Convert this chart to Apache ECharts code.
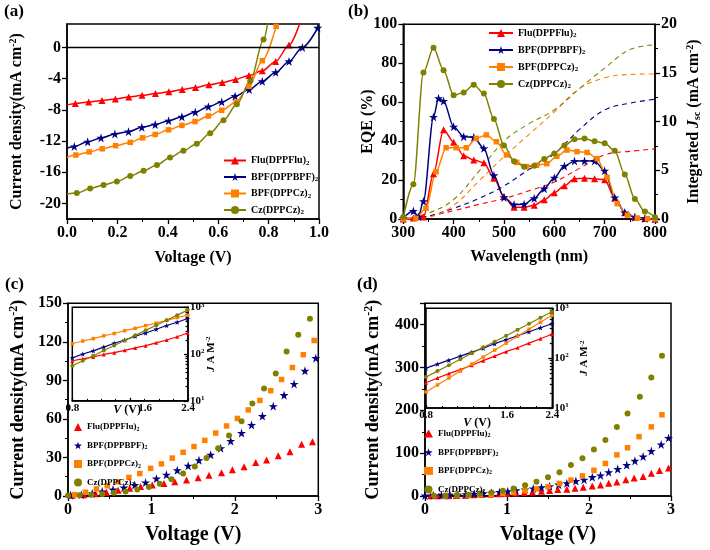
<!DOCTYPE html>
<html><head><meta charset="utf-8">
<script src="https://cdn.jsdelivr.net/npm/echarts@6/dist/echarts.min.js"></script>
<style>
html,body{margin:0;padding:0;background:#fff;}
#wrap{position:relative;width:710px;height:550px;overflow:hidden;}
.p{position:absolute;}
</style></head><body>
<div id="wrap">
<div class="p" id="pa" style="left:0;top:0;width:340px;height:275px"></div>
<div class="p" id="pb" style="left:340px;top:0;width:370px;height:275px"></div>
<div class="p" id="pc" style="left:0;top:275px;width:355px;height:275px"></div>
<div class="p" id="pd" style="left:355px;top:275px;width:355px;height:275px"></div>
</div>
<script>
// ---------- names ----------
const NAMES = ['Flu(DPPFlu)2', 'BPF(DPPBPF)2', 'BPF(DPPCz)2', 'Cz(DPPCz)2'];

// ---------- panel (a): J-V ----------
const aV_Flu = [0,0.033,0.086,0.139,0.192,0.245,0.298,0.351,0.404,0.457,0.51,0.563,0.616,0.669,0.722,0.775,0.828,0.881,0.925];
const aJ_Flu = [-7.4,-7.2,-7.0,-6.8,-6.6,-6.35,-6.15,-5.9,-5.7,-5.4,-5.15,-4.8,-4.5,-4.1,-3.6,-3.0,-1.8,0.3,3.2];
const aV_BPF = [0,0.029,0.082,0.135,0.19,0.244,0.297,0.35,0.403,0.456,0.509,0.561,0.614,0.667,0.723,0.775,0.828,0.881,0.934,0.995];
const aJ_BPF = [-12.9,-12.7,-12.1,-11.6,-11.1,-10.8,-10.25,-9.9,-9.4,-8.9,-8.3,-7.6,-7.0,-6.25,-5.4,-4.35,-3.2,-1.8,0,2.5];
const aV_BPFCz = [0,0.035,0.088,0.14,0.193,0.251,0.3,0.35,0.403,0.456,0.508,0.561,0.614,0.671,0.722,0.775,0.83];
const aJ_BPFCz = [-14.1,-13.8,-13.4,-13.0,-12.6,-12.18,-11.6,-11.16,-10.57,-10.0,-9.5,-8.8,-8.06,-7.0,-5.0,-1.7,2.7];
const aV_Cz = [0,0.039,0.092,0.145,0.198,0.251,0.304,0.357,0.409,0.462,0.515,0.568,0.621,0.674,0.727,0.78,0.797];
const aJ_Cz = [-18.8,-18.68,-18.1,-17.65,-17.2,-16.5,-15.8,-15.07,-14.1,-13.25,-12.35,-11.0,-9.34,-7.3,-4.33,1.0,3.2];
const aYTicks = [-20,-16,-12,-8,-4,0];

// ---------- panel (b): EQE and integrated Jsc ----------
const bWl_Flu = [300,320,340,360,380,400,420,440,460,480,500,520,540,560,580,600,620,640,660,680,700,720,740,760,780,800];
const bEqe_Flu = [0,0.5,1,23.3,45.9,39.4,32.5,30.3,28.9,20.9,11.5,6,6,7,9.9,13.5,17.1,20.7,20.9,20.7,20.2,10.8,3.4,0.9,0.2,0];
const bWl_BPF = [300,320,330,340,360,370,380,400,420,440,460,480,500,520,540,560,580,600,620,640,660,680,700,720,740,760,780,800];
const bEqe_BPF = [0.5,4.1,1.2,9.1,52.4,62,60.6,47.4,42.3,42,36.3,22.4,11.1,7.4,7.6,10.6,15.6,21.2,27.2,29.8,29.8,29.8,24.8,11,3.3,1,0.3,0];
const bWl_BPFCz = [300,325,345,365,385,405,425,445,465,485,505,525,545,565,585,605,625,645,665,685,705,725,745,765,785,800];
const bEqe_BPFCz = [0,0.3,5.5,24.3,36.6,36.6,36.6,41.4,43.2,39.7,32.9,29.1,26.9,27.6,28.4,32.2,35.4,34.6,34.2,31,21.4,7.9,2,0.5,0.2,0];
const bWl_Cz = [300,320,340,360,380,400,420,440,460,480,500,520,540,560,580,600,620,640,660,680,700,720,740,760,780,800];
const bEqe_Cz = [1,17.8,75.2,88,76.4,63.5,65,69,64.4,51.4,37.7,29.6,26.9,27.4,30.8,33.7,37.7,41,41.3,39.9,38.9,35.1,22.8,10.3,3.8,0.9];
const bWlJ = [300,350,400,450,500,550,600,650,700,750,800];
const bJsc_Flu = [0,0.3,0.85,1.5,2.1,2.9,3.8,5.2,6.6,6.95,7.2];
const bJsc_BPF = [0,0.3,1.1,2.1,3.4,5.1,6.7,9.2,11.2,11.9,12.3];
const bJsc_BPFCz = [0,0.2,1.4,3.9,6.4,8.7,11,13.4,14.5,14.85,14.9];
const bJsc_Cz = [0,0.6,2.0,4.9,8.0,9.8,11.2,13.4,15.5,17.4,17.9];

// ---------- panel (c): J-V (dark/forward) ----------
const cV_Flu = [0.05,0.19,0.33,0.46,0.6,0.74,0.87,1.01,1.15,1.28,1.42,1.56,1.69,1.84,1.97,2.11,2.25,2.38,2.52,2.66,2.8,2.93];
const cJ_Flu = [0.5,1,1.8,3,4.5,6,7.3,8.5,9.8,11,12.5,14.2,16.1,18.1,20.4,22.7,26,28,31.4,34.4,40.3,42.3];
const cV_BPF = [0.03,0.16,0.29,0.41,0.54,0.67,0.8,0.93,1.06,1.18,1.31,1.44,1.57,1.71,1.83,1.95,2.08,2.2,2.33,2.46,2.59,2.71,2.84,2.97];
const cJ_BPF = [0.5,1,2,3.5,5,6.5,8.5,10.5,13.5,16.5,20,23.5,27.8,32.1,37.2,42.8,49,55.3,62.2,69.9,78.5,87.2,97.4,107.3];
const cV_BPFCz = [0.08,0.21,0.34,0.47,0.6,0.73,0.86,0.99,1.12,1.25,1.38,1.51,1.64,1.77,1.9,2.03,2.16,2.3,2.43,2.56,2.69,2.82,2.95];
const cJ_BPFCz = [1,3,5.5,8,11,14.5,17.5,21.5,25,29.5,34,38.5,43.3,49,54.5,60.4,67,74.4,82,90.7,100,110,121];
const cV_Cz = [0.0,0.14,0.28,0.41,0.55,0.69,0.83,0.97,1.1,1.24,1.38,1.52,1.66,1.8,1.93,2.08,2.21,2.35,2.49,2.62,2.76,2.9];
const cJ_Cz = [0.3,0.5,1,1.5,2.5,3.5,5,7,9.5,13,17.5,22.9,29.5,37.2,47.1,58.1,72.1,83.6,95.3,112.5,125.5,138];

// ---------- panel (d) ----------
const dV_Flu = [0.07,0.17,0.28,0.38,0.49,0.59,0.69,0.8,0.9,1.0,1.11,1.21,1.31,1.42,1.52,1.62,1.73,1.83,1.93,2.04,2.14,2.24,2.34,2.45,2.55,2.66,2.76,2.86,2.97];
const dJ_Flu = [0.3,0.5,0.7,1,2,2.7,3.3,4,5,6,7,8,9.5,11,12.8,15,16,18.3,20.6,23.5,25.8,29.7,32.7,38,41.8,45.7,53.3,59.4,65.4];
const dV_BPF = [0.0,0.1,0.2,0.3,0.4,0.5,0.6,0.71,0.81,0.91,1.01,1.11,1.22,1.32,1.42,1.52,1.63,1.73,1.84,1.94,2.04,2.14,2.24,2.35,2.46,2.56,2.66,2.76,2.88,2.97];
const dJ_BPF = [1,1.5,2,2.5,3,4,5,6,7.5,9,11,13,15,17.5,20,22.8,26.5,29.7,35,38,44,48,55.5,63,72.3,82,92,105,120.3,135.5];
const dV_BPFCz = [0.25,0.39,0.53,0.67,0.81,0.95,1.08,1.22,1.36,1.5,1.64,1.78,1.92,2.06,2.2,2.34,2.47,2.61,2.76,2.89];
const dJ_BPFCz = [0.5,1,1.5,2.5,3.5,5.5,8,12,16.5,22,29,37.2,47,60,76,96,112.7,138.5,161.4,189.7];
const dV_Cz = [0.11,0.25,0.39,0.53,0.67,0.81,0.95,1.08,1.22,1.36,1.5,1.64,1.78,1.92,2.06,2.2,2.34,2.47,2.62,2.76,2.89];
const dJ_Cz = [0.5,1,2,3,5,8,12,17.5,25,33,44,55.5,72.2,88.3,108.8,131,161.4,192.7,232,276.5,327.5];

// ---------- insets (log J vs V) ----------
const insV = [0.8,0.945,1.09,1.235,1.38,1.525,1.67,1.815,1.96,2.105,2.25,2.395];
const ciFlu = [72,79,87,98,107,120,135,151,174,200,234,282];
const ciBPF = [83,100,117,141,170,200,240,282,339,407,479,575];
const ciBPFCz = [166,190,214,245,275,316,355,407,457,525,603,676];
const ciCz = [56,72,92,119,152,195,251,321,412,530,679,871];
const diFlu = [32,40,49,59,72,89,110,135,162,200,245,302];
const diBPF = [63,76,91,110,132,158,195,234,282,339,407,490];
const diBPFCz = [21,29,40,55,76,105,145,200,275,380,525,724];
const diCz = [42,55,72,95,126,166,214,282,372,490,646,851];
const logMinor = [20,30,40,50,60,70,80,90,200,300,400,500,600,700,800,900];

// ---------- styling ----------
const FF = '"Times New Roman","Liberation Serif",serif';
const COL = ['#FF0000', '#000080', '#FF8000', '#808000'];
const STAR = 'path://M50 0L61.2 34.5L97.6 34.5L68.2 55.9L79.4 90.5L50 69.1L20.6 90.5L31.8 55.9L2.4 34.5L38.8 34.5Z';
const SYM = ['triangle', STAR, 'rect', 'circle'];

function pairs(xs, ys) { return xs.map((x, i) => [x, ys[i]]); }

function richFor(fs) {
  const base = {fontFamily: FF, fontWeight: 'bold', color: '#000'};
  return {
    sup: Object.assign({}, base, {fontSize: Math.round(fs * 0.65), verticalAlign: 'top', padding: [0, 0, Math.round(fs * 0.45), 0]}),
    sub: Object.assign({}, base, {fontSize: Math.round(fs * 0.65), verticalAlign: 'bottom', padding: [Math.round(fs * 0.4), 0, 0, 0]}),
    i: Object.assign({}, base, {fontSize: fs, fontStyle: 'italic'}),
    pad: Object.assign({}, base, {fontSize: fs})
  };
}

function axis(o) {
  const fs = o.fs || 16, nfs = o.nfs || 16;
  const a = {
    type: o.type || 'value',
    nameLocation: 'middle',
    nameMoveOverlap: false,
    nameTextStyle: {color: '#000', fontFamily: FF, fontWeight: 'bold', fontSize: nfs, rich: richFor(nfs)},
    axisLine: {show: o.line !== false, onZero: false, lineStyle: {color: '#000', width: 1.5}},
    axisTick: {show: true, inside: !!o.inside, length: o.tl || 5, lineStyle: {color: '#000', width: 1.3}},
    minorTick: {show: !!o.minor, splitNumber: o.msplit || 2, length: o.mtl || 3, lineStyle: {color: '#000', width: 1}},
    splitLine: {show: false},
    axisLabel: {show: o.label !== false, color: '#000', fontFamily: FF, fontWeight: 'bold', fontSize: fs, margin: (o.margin !== undefined ? o.margin : 6)}
  };
  ['gridIndex', 'min', 'max', 'interval', 'name', 'nameGap', 'position', 'nameRotate', 'logBase', 'offset'].forEach(k => { if (o[k] !== undefined) a[k] = o[k]; });
  if (o.fmt) a.axisLabel.formatter = o.fmt;
  if (o.rich) a.axisLabel.rich = o.rich;
  if (o.labelCustom) a.axisLabel.customValues = o.labelCustom;
  if (o.tickCustom) a.axisTick.customValues = o.tickCustom;
  if (o.showMaxLabel === false) a.axisLabel.showMaxLabel = false;
  return a;
}

function legendCfg(o) {
  return {
    orient: 'vertical', left: o.left, top: o.top, itemWidth: o.iw, itemHeight: o.ih, itemGap: o.gap,
    padding: 0, selectedMode: false, data: NAMES,
    textStyle: {fontFamily: FF, fontWeight: 'bold', fontSize: o.fs, color: '#000',
      rich: {s: {fontFamily: FF, fontWeight: 'bold', fontSize: Math.round(o.fs * 0.7), color: '#000', verticalAlign: 'bottom', padding: [Math.round(o.fs * 0.45), 0, 0, 0]}}},
    formatter: n => n.slice(0, -1) + '{s|2}'
  };
}

function label(t, left, top) {
  return {text: t, left: left, top: top, padding: 0, textStyle: {fontFamily: FF, fontWeight: 'bold', fontSize: 17, color: '#000'}};
}

function gridBox(l, t, w, h, bg) {
  return {left: l, top: t, width: w, height: h, show: true, borderColor: '#000', borderWidth: 1.5, backgroundColor: bg || 'transparent', containLabel: false};
}

const logFmt = v => '{b|10}{s|' + Math.round(Math.log10(v)) + '}';
function logRich(fs) {
  return {
    b: {fontFamily: FF, fontWeight: 'bold', fontSize: fs, color: '#000'},
    s: {fontFamily: FF, fontWeight: 'bold', fontSize: Math.round(fs * 0.65), color: '#000', verticalAlign: 'top', padding: [0, 0, Math.round(fs * 0.45), 0]}
  };
}

// ---------- (a) ----------
(function () {
  const V = [aV_Flu, aV_BPF, aV_BPFCz, aV_Cz];
  const J = [aJ_Flu, aJ_BPF, aJ_BPFCz, aJ_Cz];
  const hideLast = [true, false, false, true];
  const size = [7, 9, 5.5, 6];
  const series = NAMES.map((n, i) => ({
    name: n, type: 'line', smooth: 0.3, smoothMonotone: 'x',
    data: V[i].map((v, k) => {
      const it = {value: [v, J[i][k]]};
      if (k === 0 || (hideLast[i] && k === V[i].length - 1)) it.symbol = 'none';
      return it;
    }),
    symbol: SYM[i], symbolSize: size[i], showAllSymbol: true, clip: true,
    lineStyle: {width: 1.5, color: COL[i]}, itemStyle: {color: COL[i]}, z: 3
  }));
  series[0].markLine = {silent: true, symbol: ['none', 'none'], label: {show: false}, animation: false,
    lineStyle: {color: '#000', type: 'solid', width: 1.3}, data: [{yAxis: 0}]};
  const c = echarts.init(document.getElementById('pa'));
  c.setOption({
    animation: false,
    title: label('(a)', 4, 3),
    grid: gridBox(66.7, 24, 252.3, 195),
    legend: legendCfg({left: 223, top: 155.5, iw: 22, ih: 10, gap: 5.5, fs: 10}),
    xAxis: axis({min: 0, max: 1, interval: 0.2, name: 'Voltage (V)', nameGap: 31, fmt: v => v.toFixed(1), minor: true}),
    yAxis: axis({min: -22, max: 3, name: 'Current density(mA cm{sup|-2})', nameGap: 42, labelCustom: aYTicks, tickCustom: aYTicks}),
    series: series
  });
})();

// ---------- (b) ----------
(function () {
  const W = [bWl_Flu, bWl_BPF, bWl_BPFCz, bWl_Cz];
  const E = [bEqe_Flu, bEqe_BPF, bEqe_BPFCz, bEqe_Cz];
  const Jsc = [bJsc_Flu, bJsc_BPF, bJsc_BPFCz, bJsc_Cz];
  const size = [7, 9, 5.5, 6];
  const series = [];
  NAMES.forEach((n, i) => {
    series.push({name: n, type: 'line', smooth: 0.3, smoothMonotone: 'x', data: pairs(W[i], E[i]),
      symbol: SYM[i], symbolSize: size[i], showAllSymbol: true, yAxisIndex: 0,
      lineStyle: {width: 1.5, color: COL[i]}, itemStyle: {color: COL[i]}, z: 3});
  });
  NAMES.forEach((n, i) => {
    series.push({name: 'Jsc ' + n, type: 'line', smooth: 0.4, data: pairs(bWlJ, Jsc[i]), symbol: 'none', yAxisIndex: 1,
      lineStyle: {width: 1.1, color: COL[i], type: [5, 4]}, itemStyle: {color: COL[i]}, z: 2});
  });
  const c = echarts.init(document.getElementById('pb'));
  c.setOption({
    animation: false,
    title: label('(b)', 8, 3),
    grid: gridBox(63.3, 24.3, 256.7, 194.7),
    legend: legendCfg({left: 148, top: 28, iw: 24, ih: 10, gap: 6, fs: 10}),
    xAxis: axis({min: 300, max: 800, interval: 100, name: 'Wavelength (nm)', nameGap: 30, minor: true}),
    yAxis: [
      axis({min: 0, max: 100, interval: 20, name: 'EQE (%)', nameGap: 27, minor: true}),
      axis({min: 0, max: 20, interval: 5, position: 'right', name: 'Integrated {i|J}{sub|sc} (mA cm{sup|-2})', nameGap: 30, nameRotate: 90, minor: true})
    ],
    series: series
  });
})();

// ---------- (c) & (d) builder ----------
function buildJV(id, lab, main, inset, cfg) {
  const size = [7, 9, 5.5, 6];
  const series = [];
  NAMES.forEach((n, i) => {
    series.push({name: n, type: 'scatter', data: pairs(main.V[i], main.J[i]), symbol: SYM[i], symbolSize: size[i],
      itemStyle: {color: COL[i], opacity: 1}, xAxisIndex: 0, yAxisIndex: 0, z: 3});
  });
  const isize = [4, 5.5, 3.5, 4];
  NAMES.forEach((n, i) => {
    series.push({name: n, type: 'line', data: pairs(insV, inset[i]), symbol: SYM[i], symbolSize: isize[i], showAllSymbol: true,
      lineStyle: {width: 1.2, color: COL[i]}, itemStyle: {color: COL[i]}, xAxisIndex: 1, yAxisIndex: 1, z: 5});
  });
  const g = cfg.inset;
  const midPad = cfg.midPad;
  const c = echarts.init(document.getElementById(id));
  c.setOption({
    animation: false,
    title: label(lab, cfg.labLeft, 1),
    grid: [gridBox(63.3, 28.3, cfg.w, 196), gridBox(g[0], g[1], g[2], g[3], '#fff')],
    legend: legendCfg(cfg.legend),
    xAxis: [
      axis({gridIndex: 0, min: 0, max: 3, interval: 1, name: 'Voltage (V)', nameGap: 29, nfs: 20, minor: true}),
      axis({gridIndex: 1, min: 0.8, max: 2.4, interval: 0.8, inside: true, tl: 3, minor: true, msplit: 4, mtl: 2, fs: 11, margin: 2,
        name: '{i|V} (V){pad|' + cfg.namePad + '}', nameGap: cfg.vGap, nfs: 12,
        fmt: v => (Math.abs(v - 1.6) < 0.01 ? '{m|1.6}' : v.toFixed(1)),
        rich: {m: {fontFamily: FF, fontWeight: 'bold', fontSize: 11, color: '#000', padding: [0, 0, 3, midPad]}}})
    ],
    yAxis: [
      axis({gridIndex: 0, min: 0, max: cfg.ymax, interval: cfg.yint, name: 'Current density(mA cm{sup|-2})', nameGap: cfg.yGap, nfs: 18, minor: true, showMaxLabel: cfg.showMax}),
      axis({gridIndex: 1, type: 'log', logBase: 10, min: 10, max: 1000, position: 'right', inside: true, tl: 4, fs: 11, margin: 2,
        fmt: logFmt, rich: logRich(11), name: '{i|J} A M{sup|-2}', nameGap: cfg.jGap, nfs: 11, nameRotate: 90}),
      axis({gridIndex: 1, type: 'log', logBase: 10, min: 10, max: 1000, position: 'right', offset: 0, inside: true, tl: 2.5,
        line: false, label: false, tickCustom: logMinor})
    ],
    series: series
  });
}

buildJV('pc', '(c)',
  {V: [cV_Flu, cV_BPF, cV_BPFCz, cV_Cz], J: [cJ_Flu, cJ_BPF, cJ_BPFCz, cJ_Cz]},
  [ciFlu, ciBPF, ciBPFCz, ciCz],
  {w: 255, ymax: 150, yint: 30, yGap: 40, showMax: true, labLeft: 5, inset: [72.3, 32.3, 115.7, 93.5], vGap: 3, jGap: 17,
   namePad: '  ', midPad: 30,
   legend: {left: 74, top: 147.5, iw: 8, ih: 8, gap: 9, fs: 9}});

buildJV('pd', '(d)',
  {V: [dV_Flu, dV_BPF, dV_BPFCz, dV_Cz], J: [dJ_Flu, dJ_BPF, dJ_BPFCz, dJ_Cz]},
  [diFlu, diBPF, diBPFCz, diCz],
  {w: 252.7, ymax: 450, yint: 100, yGap: 42, showMax: false, labLeft: 2, inset: [71, 33.3, 126.3, 99.7], vGap: 9, jGap: 26,
   namePad: '        ', midPad: 36,
   legend: {left: 69, top: 154, iw: 9, ih: 8, gap: 9.2, fs: 9}});
</script>
</body></html>
